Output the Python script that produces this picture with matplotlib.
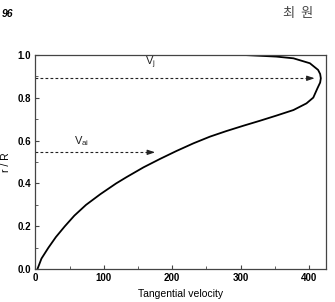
import matplotlib
matplotlib.use("Agg")
import matplotlib.pyplot as plt
from matplotlib.ticker import MultipleLocator

# ---- data ----
r_over_R = [0.0, 0.05, 0.10, 0.15, 0.20, 0.25, 0.30, 0.35, 0.40, 0.429, 0.475,
            0.514, 0.551, 0.587, 0.618, 0.644, 0.669, 0.692, 0.716, 0.742, 0.773,
            0.80, 0.843, 0.87, 0.89, 0.91, 0.929, 0.96, 0.983, 0.991, 0.9986, 1.0, 1.0]
tangential_velocity = [3, 9, 19, 30, 43, 57, 74, 95, 118, 133, 158,
                       182, 206, 231, 255, 279, 304, 328, 352, 377, 396,
                       406, 412, 416, 417, 416, 413, 401, 377, 352, 304, 250, 0]

vj_label = r"V$_{\mathrm{j}}$"
vj_r = 0.89
vj_v = 408
vai_label = r"V$_{\mathrm{ai}}$"
vai_r = 0.545
vai_v = 175

x_ticks = [0, 100, 200, 300, 400]
y_ticks = [0.0, 0.2, 0.4, 0.6, 0.8, 1.0]
x_label = "Tangential velocity"
y_label = "r / R"
page_num = "96"
header_text = "최  원"

plt.rcParams['font.family'] = ['Liberation Sans', 'DejaVu Sans']
plt.rcParams['mathtext.fontset'] = 'custom'
plt.rcParams['mathtext.rm'] = 'Liberation Sans'

fig = plt.figure(figsize=(3.35, 3.02), dpi=100)
ax = fig.add_axes([0.1054, 0.1083, 0.8666, 0.7107])

ax.plot(tangential_velocity, r_over_R, color='black', lw=1.3,
        solid_capstyle='round', solid_joinstyle='round')

for rv, vv in [(vj_r, vj_v), (vai_r, vai_v)]:
    ax.plot([0, vv - 8], [rv, rv], color='#222222', lw=0.8, ls=(0, (2.5, 2)))
    ax.annotate('', xy=(vv, rv), xytext=(vv - 10, rv),
                arrowprops=dict(arrowstyle='-|>,head_length=0.45,head_width=0.15',
                                color='#222222', lw=0.8, shrinkA=0, shrinkB=0))

ax.text(168, 0.925, vj_label, fontsize=8, ha='center', va='bottom', color='#222222')
ax.text(68, 0.565, vai_label, fontsize=8, ha='center', va='bottom', color='#222222')

ax.set_xlim(0, 424)
ax.set_ylim(0, 1.0)
ax.set_xticks(x_ticks)
ax.set_yticks(y_ticks)
ax.set_yticklabels([f"{t:.1f}" for t in y_ticks])
ax.xaxis.set_minor_locator(MultipleLocator(50))
ax.yaxis.set_minor_locator(MultipleLocator(0.1))
ax.tick_params(which='both', direction='in', top=False, right=False, color='#444444')
ax.tick_params(which='major', length=3, width=0.8, pad=3)
ax.tick_params(which='minor', length=2, width=0.6)
for lab in ax.get_xticklabels() + ax.get_yticklabels():
    lab.set_fontweight('bold')
    lab.set_fontsize(7)
for sp in ax.spines.values():
    sp.set_linewidth(0.9)
    sp.set_color('#444444')

ax.set_xlabel(x_label, fontsize=7.5, labelpad=4)
ax.set_ylabel(y_label, fontsize=7.5, labelpad=5)

fig.text(0.004, 0.955, page_num, fontsize=7.5, fontweight='bold', style='italic',
         ha='left', va='center')
fig.text(0.845, 0.955, header_text, fontsize=9.5, ha='left', va='center',
         family=['Noto Sans CJK KR', 'DejaVu Sans'], color='#444444')

fig.savefig("out.png", dpi=100)
